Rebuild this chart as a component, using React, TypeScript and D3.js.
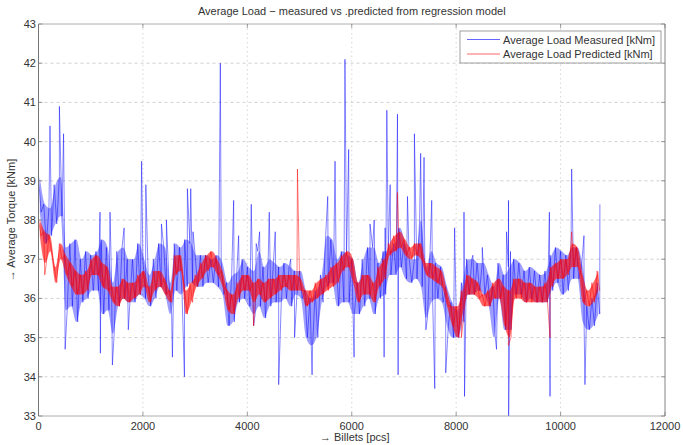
import React from 'react';
import * as d3 from 'd3';

// ---- data ----
const xTicks = [0, 2000, 4000, 6000, 8000, 10000, 12000];
const yTicks = [33, 34, 35, 36, 37, 38, 39, 40, 41, 42, 43];
const binWidth = 100; // billets per reading bin

const measuredHigh = [
  39.1, 38.4, 38.3, 38.9, 39.1, 37.3, 37.4, 37.5, 37.0, 37.2,
  37.1, 37.2, 37.5, 37.3, 36.4, 37.2, 37.3, 37.0, 37.0, 37.4,
  37.0, 36.6, 37.0, 37.4, 37.3, 36.4, 37.4, 37.3, 37.5, 37.4,
  37.1, 37.1, 37.1, 37.0, 37.1, 36.9, 36.4, 36.6, 36.7, 37.0,
  36.8, 36.7, 37.2, 36.8, 37.0, 36.9, 36.8, 36.9, 36.8, 36.7,
  36.7, 36.2, 36.0, 36.2, 36.6, 37.6, 37.5, 37.0, 37.2, 37.1,
  37.0, 36.4, 37.0, 37.3, 37.3, 36.9, 37.2, 37.2, 37.4, 37.8,
  37.4, 37.0, 37.0, 38.0, 36.8, 37.2, 36.9, 36.8, 36.3, 35.9,
  35.7, 36.4, 37.0, 37.0, 36.9, 36.9, 36.6, 36.3, 36.9, 36.6,
  36.8, 37.0, 36.9, 36.7, 36.8, 36.7, 36.6, 36.7, 37.1, 37.3,
  37.2, 37.1, 37.3, 37.3, 36.8, 35.8, 36.0, 36.4,
];
const measuredLow = [
  38.2, 37.4, 37.6, 37.9, 38.1, 35.7, 35.8, 35.4, 35.9, 36.0,
  36.2, 36.2, 35.6, 35.7, 35.1, 35.8, 36.0, 35.9, 35.9, 36.1,
  36.0, 35.8, 36.0, 36.3, 36.1, 35.6, 36.2, 36.1, 36.3, 36.4,
  36.3, 36.3, 36.4, 36.4, 36.3, 36.1, 35.3, 35.4, 35.9, 36.0,
  35.8, 35.6, 35.8, 35.5, 35.8, 35.9, 35.9, 36.0, 35.8, 36.1,
  36.0, 35.0, 34.8, 35.0, 35.9, 36.3, 36.4, 35.8, 35.9, 35.9,
  35.6, 35.6, 35.8, 36.0, 35.6, 36.0, 36.1, 36.6, 36.6, 36.8,
  36.5, 36.4, 36.5, 36.3, 35.5, 35.9, 36.0, 35.9, 35.3, 35.0,
  35.0, 35.4, 36.1, 36.1, 36.2, 36.1, 35.8, 35.0, 36.0, 35.2,
  35.2, 36.1, 36.1, 35.9, 36.0, 35.9, 35.9, 35.9, 36.2, 36.4,
  36.1, 36.2, 36.5, 36.5, 35.4, 35.2, 35.3, 35.6,
];
const predictedHigh = [
  38.0, 37.7, 37.6, 36.8, 37.4, 37.1, 36.9, 36.7, 36.6, 36.7,
  37.0, 37.1, 36.9, 36.8, 36.3, 36.3, 36.5, 36.4, 36.4, 36.6,
  36.7, 36.3, 36.7, 36.7, 36.5, 36.2, 37.1, 37.1, 36.2, 36.4,
  36.6, 36.9, 37.1, 37.2, 37.0, 36.7, 36.2, 36.1, 36.4, 36.6,
  36.6, 36.4, 36.5, 36.4, 36.5, 36.5, 36.6, 36.6, 36.6, 36.6,
  36.5, 36.2, 36.2, 36.4, 36.5, 36.6, 36.8, 36.9, 37.1, 37.2,
  37.0, 36.4, 36.6, 36.6, 36.4, 36.8, 37.0, 37.4, 37.6, 37.7,
  37.5, 37.3, 37.4, 37.4, 36.9, 36.9, 36.8, 36.7, 36.2, 35.8,
  35.8, 36.2, 36.6, 36.5, 36.4, 36.1, 36.2, 36.4, 36.5, 36.3,
  36.2, 36.5, 36.5, 36.4, 36.4, 36.3, 36.3, 36.4, 36.8, 36.9,
  37.0, 37.0, 37.4, 37.3, 36.6, 36.2, 36.4, 36.7,
];
const predictedLow = [
  37.6, 36.9, 37.2, 36.4, 37.0, 36.6, 36.3, 36.1, 36.1, 36.2,
  36.6, 36.6, 36.3, 36.2, 35.9, 35.8, 36.0, 35.9, 36.0, 36.1,
  36.3, 35.9, 36.2, 36.3, 36.1, 35.9, 36.6, 36.7, 35.6, 35.9,
  36.3, 36.5, 36.7, 36.8, 36.6, 36.3, 35.7, 35.6, 36.0, 36.2,
  36.2, 35.9, 36.1, 35.9, 36.0, 36.1, 36.2, 36.3, 36.2, 36.2,
  36.2, 35.8, 35.9, 36.0, 36.1, 36.2, 36.3, 36.4, 36.7, 36.8,
  36.4, 35.9, 36.1, 36.1, 35.9, 36.3, 36.5, 37.1, 37.2, 37.3,
  37.1, 37.0, 37.1, 37.0, 36.6, 36.5, 36.4, 36.3, 35.8, 35.3,
  35.0, 35.6, 36.1, 36.1, 36.0, 35.8, 35.8, 36.0, 36.0, 35.3,
  35.0, 36.0, 36.0, 35.9, 35.9, 35.9, 35.9, 35.9, 36.3, 36.5,
  36.5, 36.6, 36.8, 36.8, 35.9, 35.8, 35.9, 36.2,
];

const measuredSpikeBillets = [
  220, 305, 400, 480, 510, 1178, 1185, 1370, 1415, 1640, 1720, 1975, 2056,
  2355, 2450, 2565, 2795, 2852, 2916, 2960, 3483, 3738, 3833, 4075, 4120,
  4170, 4235, 4420, 4535, 4600, 4830, 4905, 5240, 5540, 5680, 5870, 5941,
  6045, 6350, 6430, 6620, 6640, 6672, 6736, 6876, 6888, 7067, 7200, 7320,
  7385, 7420, 7532, 7590, 7800, 7970, 8150, 8160, 8320, 8500, 8773, 8965,
  9003, 9005, 9040, 9786, 9798, 10212, 10448, 10467, 10753,
];
const measuredSpikeValues = [
  40.4, 38.8, 40.9, 40.2, 34.7, 38.2, 34.6, 38.2, 34.3, 37.8, 35.2, 39.5, 38.9,
  37.9, 38.0, 34.5, 34.0, 38.8, 38.8, 37.7, 42.0, 38.5, 37.6, 38.4, 35.3,
  37.4, 37.7, 38.2, 37.7, 33.8, 37.0, 35.0, 34.05, 38.6, 39.5, 42.1, 39.8,
  34.5, 37.9, 38.0, 34.5, 37.8, 40.8, 38.9, 40.7, 34.05, 38.6, 40.2, 39.7,
  39.6, 35.2, 38.5, 33.7, 34.1, 37.8, 38.2, 33.5, 37.1, 37.3, 34.7, 37.7,
  38.5, 33.0, 37.2, 38.2, 33.5, 39.3, 37.6, 33.8, 38.4,
];
const predictedSpikeBillets = [120, 4120, 4960, 6875, 8100, 9000, 9798, 10212];
const predictedSpikeValues = [36.6, 35.3, 39.3, 38.7, 35.0, 34.8, 35.0, 37.7];

const titleText = 'Average Load \u2212 measured vs .predicted from regression model';
const xLabel = '\u2192 Billets [pcs]';
const yLabel = '\u2192 Average Torque [kNm]';
const legendLabels = ['Average Load Measured [kNm]', 'Average Load Predicted [kNm]'];
const seriesColors = ['#0000ff', '#ff0000'];

function buildSeries(hi: number[], lo: number[], sb: number[], sv: number[]): [number, number][] {
  const pts: [number, number][] = [];
  hi.forEach((h, i) => {
    pts.push([i * binWidth, h]);
    pts.push([i * binWidth + binWidth / 2, lo[i]]);
  });
  sb.forEach((b, i) => pts.push([b, sv[i]]));
  pts.sort((a, b) => a[0] - b[0]);
  return pts;
}

export default function App() {
  const W = 683, H = 445;
  const left = 38.5, right = 665, top = 24, bottom = 416;
  const x = d3.scaleLinear().domain([0, 12000]).range([left, right]);
  const y = d3.scaleLinear().domain([33, 43]).range([bottom, top]);
  const line = d3.line<[number, number]>().x(d => x(d[0])).y(d => y(d[1]));
  const band = d3.area<number>()
    .x((_, i) => x(i * binWidth + binWidth / 4))
    .curve(d3.curveMonotoneX);
  const measured = buildSeries(measuredHigh, measuredLow, measuredSpikeBillets, measuredSpikeValues);
  const predicted = buildSeries(predictedHigh, predictedLow, predictedSpikeBillets, predictedSpikeValues);
  const mBand = band.y0((_, i) => y(measuredLow[i])).y1(d => y(d))(measuredHigh) || '';
  const pBand = band.y0((_, i) => y(predictedLow[i])).y1(d => y(d))(predictedHigh) || '';
  const font = 'Liberation Sans, Arial, Helvetica, sans-serif';
  const tickLen = 4;

  return (
    <svg width={W} height={H} style={{ position: 'absolute', left: 0, top: 0, background: '#fff' }}
      fontFamily={font}>
      <defs>
        <clipPath id="plot">
          <rect x={left} y={top} width={right - left} height={bottom - top} />
        </clipPath>
      </defs>
      <rect x={0} y={0} width={W} height={H} fill="#fff" />
      {/* grid */}
      {xTicks.slice(1, -1).map(t => (
        <line key={'gx' + t} x1={x(t)} x2={x(t)} y1={top} y2={bottom}
          stroke="#c4c4c4" strokeWidth={0.7} strokeDasharray="1.5,3" />
      ))}
      {yTicks.slice(1, -1).map(t => (
        <line key={'gy' + t} x1={left} x2={right} y1={y(t)} y2={y(t)}
          stroke="#bdbdbd" strokeWidth={0.7} strokeDasharray="3,3" />
      ))}
      {/* series */}
      <g clipPath="url(#plot)">
        <path d={mBand} fill={seriesColors[0]} fillOpacity={0.38} stroke="none" />
        <path d={line(measured) || ''} fill="none" stroke={seriesColors[0]} strokeWidth={0.6}
          strokeOpacity={0.8} />
        <path d={pBand} fill={seriesColors[1]} fillOpacity={0.6} stroke="none" />
        <path d={line(predicted) || ''} fill="none" stroke={seriesColors[1]} strokeWidth={0.6}
          strokeOpacity={0.85} />
      </g>
      {/* box */}
      <line x1={left} x2={right} y1={top} y2={top} stroke="#999" strokeWidth={0.8} />
      <line x1={right} x2={right} y1={top} y2={bottom} stroke="#666" strokeWidth={0.8} />
      <line x1={left} x2={right} y1={bottom} y2={bottom} stroke="#999" strokeWidth={0.8} />
      <line x1={left} x2={left} y1={top} y2={bottom} stroke="#666" strokeWidth={0.9} />
      {/* ticks */}
      {xTicks.map(t => (
        <g key={'tx' + t}>
          <line x1={x(t)} x2={x(t)} y1={bottom} y2={bottom - tickLen} stroke="#777" strokeWidth={0.7} />
          <line x1={x(t)} x2={x(t)} y1={top} y2={top + tickLen} stroke="#777" strokeWidth={0.7} />
          <text x={x(t)} y={430} textAnchor="middle" fontSize={11} fill="#333">{t}</text>
        </g>
      ))}
      {yTicks.map(t => (
        <g key={'ty' + t}>
          <line x1={left} x2={left + tickLen} y1={y(t)} y2={y(t)} stroke="#777" strokeWidth={0.7} />
          <line x1={right} x2={right - tickLen} y1={y(t)} y2={y(t)} stroke="#777" strokeWidth={0.7} />
          <text x={36} y={y(t) + 4} textAnchor="end" fontSize={11} fill="#333">{t}</text>
        </g>
      ))}
      {/* title and labels */}
      <text x={(left + right) / 2} y={15} textAnchor="middle" fontSize={11} fill="#333">{titleText}</text>
      <text x={(left + right) / 2 + 3} y={441} textAnchor="middle" fontSize={11} fill="#333">{xLabel}</text>
      <text transform={`translate(15,${(top + bottom) / 2}) rotate(-90)`} textAnchor="middle"
        fontSize={11} fill="#333">{yLabel}</text>
      {/* legend */}
      <g>
        <rect x={460} y={31} width={201} height={32} fill="#fff" stroke="#888" strokeWidth={0.8} />
        {legendLabels.map((lab, i) => (
          <g key={lab}>
            <line x1={467} x2={500} y1={39.5 + i * 14.5} y2={39.5 + i * 14.5}
              stroke={seriesColors[i]} strokeWidth={1} strokeOpacity={0.6} />
            <text x={503} y={43.5 + i * 14.5} fontSize={11} fill="#333">{lab}</text>
          </g>
        ))}
      </g>
    </svg>
  );
}
